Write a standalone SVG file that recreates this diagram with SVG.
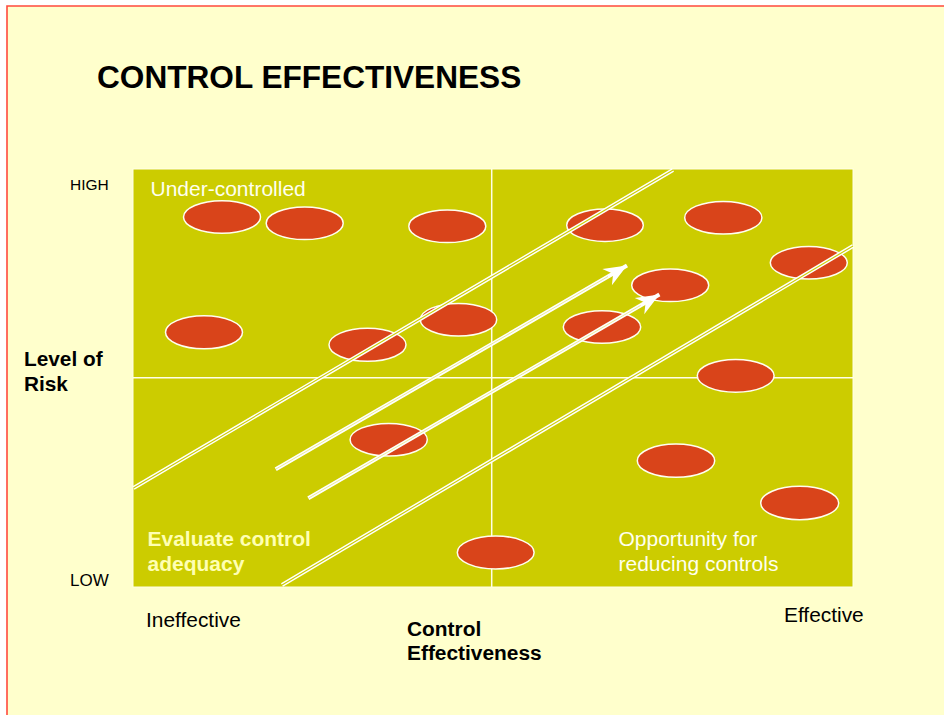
<svg xmlns="http://www.w3.org/2000/svg" width="944" height="715" viewBox="0 0 944 715">
  <defs>
    <style>
      .t { font-family: "Liberation Sans", Arial, sans-serif; }
      .b { font-weight: bold; }
      .dot { fill: #D9441A; stroke: #FFFFF0; stroke-width: 1.5; }
      .dbl { stroke: #FFFFFF; stroke-width: 4; fill: none; }
      .dblin { stroke: #CCCC00; stroke-width: 1.1; fill: none; }
      .shaft { stroke: #FFFFFF; stroke-width: 4; fill: none; }
      .shaftin { stroke: #CCCC00; stroke-width: 0.7; fill: none; opacity: 0.6; }
      .div { stroke: #FFFFE8; stroke-width: 1.5; }
    </style>
    <marker id="ah" markerUnits="userSpaceOnUse" viewBox="-24 -12 25 24" refX="0" refY="0" markerWidth="25" markerHeight="24" orient="auto">
      <path d="M0,0 L-23,-9.5 L-16,0 L-23,9.5 Z" fill="#FFFFFF"/>
    </marker>
  </defs>

  <rect x="0" y="0" width="944" height="715" fill="#FFFFFF"/>
  <rect x="7" y="6" width="937" height="709" fill="#FFFFCC"/>
  <path d="M7,715 L7,6 L944,6" fill="none" stroke="#FF4A3D" stroke-width="1.6"/>

  <text class="t b" x="97" y="88" font-size="31.6" fill="#000">CONTROL EFFECTIVENESS</text>

  <g id="plot">
    <rect x="133" y="169" width="720" height="418" fill="#CCCC00" stroke="#FFFFE8" stroke-width="1"/>
    <line class="div" x1="491.7" y1="169" x2="491.7" y2="587"/>
    <line class="div" x1="133" y1="377.7" x2="853" y2="377.7"/>
  </g>

  <g id="nodes">
    <g id="n1"><ellipse class="dot" cx="222" cy="217" rx="38.5" ry="16.3"/></g>
    <g id="n2"><ellipse class="dot" cx="304.7" cy="223.3" rx="38.5" ry="16.3"/></g>
    <g id="n3"><ellipse class="dot" cx="447.3" cy="226.3" rx="38.5" ry="16.3"/></g>
    <g id="n4"><ellipse class="dot" cx="204" cy="332.3" rx="38.5" ry="16.5"/></g>
    <g id="n5"><ellipse class="dot" cx="367.5" cy="344.8" rx="38.5" ry="16.5"/></g>
    <g id="n6"><ellipse class="dot" cx="458.5" cy="319.7" rx="38.2" ry="16.3"/></g>
    <g id="n7"><ellipse class="dot" cx="605" cy="225.2" rx="38.3" ry="16.2"/></g>
    <g id="n8"><ellipse class="dot" cx="723.3" cy="217.7" rx="38.6" ry="16.3"/></g>
    <g id="n9"><ellipse class="dot" cx="808.8" cy="262.8" rx="38.5" ry="16.2"/></g>
    <g id="n10"><ellipse class="dot" cx="670.2" cy="285.3" rx="38.5" ry="16.3"/></g>
    <g id="n11"><ellipse class="dot" cx="602" cy="327" rx="38.7" ry="16.3"/></g>
    <g id="n12"><ellipse class="dot" cx="735.7" cy="375.8" rx="38.4" ry="16.4"/></g>
    <g id="n13"><ellipse class="dot" cx="388.7" cy="439.7" rx="38.6" ry="16.3"/></g>
    <g id="n14"><ellipse class="dot" cx="495.7" cy="552.5" rx="38.4" ry="16.5"/></g>
    <g id="n15"><ellipse class="dot" cx="676" cy="460.7" rx="38.7" ry="16.6"/></g>
    <g id="n16"><ellipse class="dot" cx="799.7" cy="503" rx="39" ry="16.7"/></g>
  </g>

  <g id="connectors">
    <line class="dbl" x1="133.5" y1="488" x2="673" y2="170"/>
    <line class="dblin" x1="133.5" y1="488" x2="673" y2="170"/>
    <line class="dbl" x1="282" y1="585" x2="853" y2="246"/>
    <line class="dblin" x1="282" y1="585" x2="853" y2="246"/>
    <line class="shaft" x1="275.7" y1="469.3" x2="627" y2="265.6" marker-end="url(#ah)"/>
    <line class="shaftin" x1="276" y1="469" x2="608" y2="276.5"/>
    <line class="shaft" x1="308.3" y1="498.3" x2="659.4" y2="294.6" marker-end="url(#ah)"/>
    <line class="shaftin" x1="308.6" y1="498" x2="640.5" y2="305.5"/>
  </g>

  <g id="labels">
    <text class="t" x="150.5" y="195.5" font-size="21" fill="#FFFFEE">Under-controlled</text>
    <text class="t b" x="147.5" y="546" font-size="21" fill="#FFFFB3">Evaluate control</text>
    <text class="t b" x="147.5" y="571" font-size="21" fill="#FFFFB3">adequacy</text>
    <text class="t" x="618.5" y="546" font-size="21" fill="#FFFFEE">Opportunity for</text>
    <text class="t" x="618.5" y="570.5" font-size="21" fill="#FFFFEE">reducing controls</text>
  </g>

  <g id="axes">
    <text class="t" x="70" y="190" font-size="15.5" fill="#000">HIGH</text>
    <text class="t" x="70" y="586" font-size="17" fill="#000">LOW</text>
    <text class="t b" x="24" y="366" font-size="20.8" fill="#000">Level of</text>
    <text class="t b" x="24" y="391" font-size="20.8" fill="#000">Risk</text>
    <text class="t" x="146" y="627" font-size="20.9" fill="#000">Ineffective</text>
    <text class="t" x="784" y="621.5" font-size="20.9" fill="#000">Effective</text>
    <text class="t b" x="407" y="636" font-size="20.9" fill="#000">Control</text>
    <text class="t b" x="407" y="660" font-size="20.9" fill="#000">Effectiveness</text>
  </g>
</svg>
